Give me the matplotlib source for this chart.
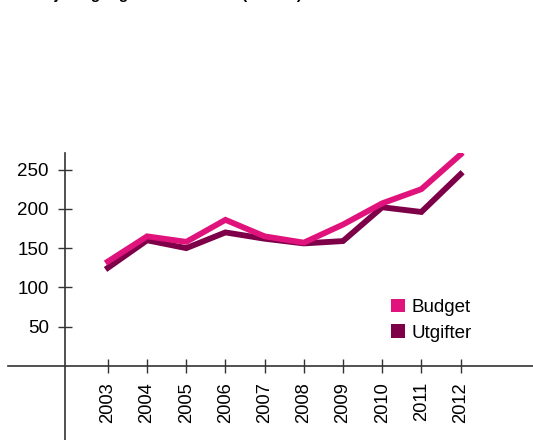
import matplotlib
matplotlib.use("Agg")
import matplotlib.pyplot as plt
from matplotlib.patches import Patch

plt.rcParams['font.family'] = ['Liberation Sans', 'DejaVu Sans']

years = [2003, 2004, 2005, 2006, 2007, 2008, 2009, 2010, 2011, 2012]
budget = [133, 165, 158, 186, 165, 157, 180, 207, 225, 269]
utgifter = [125, 160, 150, 170, 162, 156, 159, 202, 196, 244]
yticks = [50, 100, 150, 200, 250]

c_budget = '#e0127c'
c_utg = '#7d0048'

fig = plt.figure(figsize=(5.33, 4.4), dpi=100)
ax = fig.add_axes([8/533, 0.0, 1 - 8/533, 1 - 153/440])

ax.plot(years, utgifter, color=c_utg, lw=4.2, solid_joinstyle='miter', zorder=3)
ax.plot(years, budget, color=c_budget, lw=4.2, solid_joinstyle='miter', zorder=4)

ax.set_xlim(2000.45, 2013.85)
ax.set_ylim(-94, 271)

for s in ['top', 'right']:
    ax.spines[s].set_visible(False)
ax.spines['left'].set_position(('data', 2001.9))
ax.spines['bottom'].set_position(('data', 0))
for s in ['left', 'bottom']:
    ax.spines[s].set_color('#333333')
    ax.spines[s].set_linewidth(1.2)

ax.set_xticks(years)
ax.set_xticklabels([str(y) for y in years], rotation=90, fontsize=13.2)
ax.set_yticks(yticks)
ax.set_yticklabels([str(v) for v in yticks], fontsize=13.5)
ax.tick_params(axis='both', direction='inout', length=10, width=1.0, color='#333333')
ax.tick_params(axis='x', pad=6.5)
ax.tick_params(axis='y', pad=6.5)

handles = [Patch(facecolor=c_budget, label='Budget'), Patch(facecolor=c_utg, label='Utgifter')]
leg = ax.legend(handles=handles, loc='upper left', bbox_to_anchor=(375/525, (440-291)/287),
                frameon=False, fontsize=13.5, handlelength=0.75, handleheight=0.75,
                handletextpad=0.35, labelspacing=0.45, borderaxespad=0)

fig.text(0.03, 1 + 1.0/440, 'Budsjett og utgifter 2003–2012 (mill. kr)', fontsize=11,
         fontweight='bold', va='baseline', ha='left')

fig.savefig('out.png', dpi=100)
